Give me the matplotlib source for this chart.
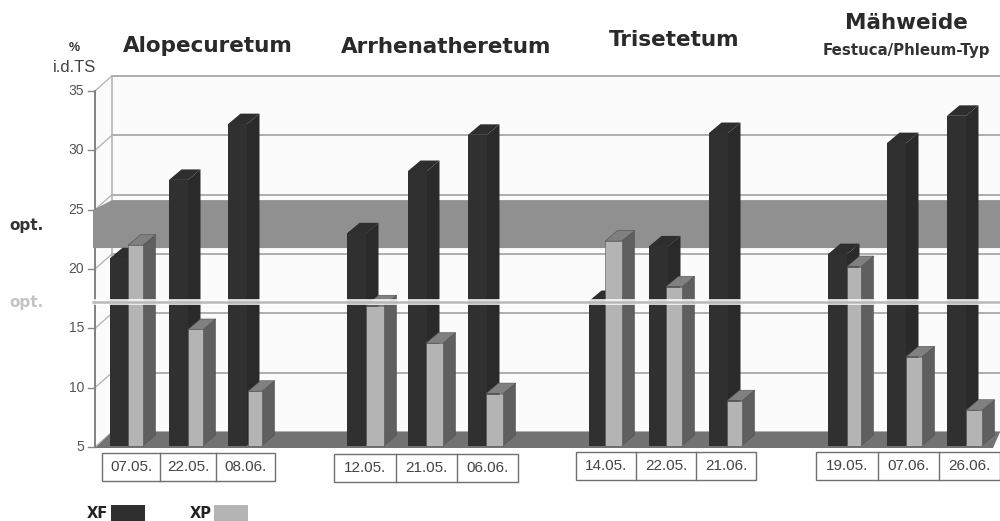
import matplotlib
matplotlib.use('Agg')
import matplotlib.pyplot as plt
from matplotlib.patches import Polygon, Rectangle

plt.rcParams['font.family'] = ['Liberation Sans', 'DejaVu Sans']
WIDE = ['DejaVu Sans']  # the spaced-out bold captions of the original

# values (% i.d.TS)
groups = ['Alopecuretum', 'Arrhenatheretum', 'Trisetetum', 'Mähweide']
dates = [['07.05.', '22.05.', '08.06.'],
         ['12.05.', '21.05.', '06.06.'],
         ['14.05.', '22.05.', '21.06.'],
         ['19.05.', '07.06.', '26.06.']]
xf = [[20.9, 27.5, 32.2],
      [23.0, 28.25, 31.3],
      [17.3, 21.9, 31.45],
      [21.25, 30.6, 32.9]]
xp = [[22.0, 14.9, 9.7],
      [16.9, 13.75, 9.5],
      [22.35, 18.5, 8.9],
      [20.2, 12.6, 8.1]]
yticks = [5, 10, 15, 20, 25, 30, 35]
opt_xf = (21.76, 25.8)
opt_xp = 17.2

# layout, all x in pixels
xf_left = [[110, 169, 228], [347, 408, 468], [589, 649, 709], [828, 887, 947]]
xp_left = [[128, 188, 248], [366, 426, 486], [605, 666, 727], [847, 906, 966]]
xp_width = [[15, 15, 14], [18, 17, 17], [17, 16, 15], [14, 16, 16]]
box_edges = [[102, 160, 216, 275], [334, 396, 457, 518], [576, 636, 696, 756], [816, 878, 939, 1000]]
box_top = [453, 454, 452, 452]
title_x = [208, 446, 674, 906]
title_y = [46, 47, 40, 23]

PX = 11.87  # pixels per % unit
Y0 = 447    # pixel row of the value 5


def val(py):
    return 5 + (Y0 - py) / PX


fig = plt.figure(figsize=(10, 5.21), dpi=100)
ax = fig.add_axes([0, 0, 1, 1])
ax.set_xlim(0, 1000)
ax.set_ylim(val(521), val(0))
ax.axis('off')


def poly(pts, color, z, ec='none', lw=0):
    ax.add_patch(Polygon(pts, closed=True, fc=color, ec=ec, lw=lw, zorder=z))


def bar3d(x, w, top, front, side, cap, z, ec='none'):
    base = val(445.5)
    dx = 12.5
    dy = 10.5 / PX
    poly([(x + w, base), (x + w + dx, base + dy), (x + w + dx, top + dy), (x + w, top)], side, z, ec, 0.4)
    poly([(x, top), (x + dx, top + dy), (x + w + dx, top + dy), (x + w, top)], cap, z, ec, 0.4)
    poly([(x, base), (x + w, base), (x + w, top), (x, top)], front, z + 0.1, ec, 0.4)


# back wall, side wall and floor
wall_dy = 15 / PX
poly([(95, 5), (112, 5 + wall_dy), (1000, 5 + wall_dy), (1000, 35 + wall_dy), (112, 35 + wall_dy), (95, 35)], '#fbfbfb', 1)
for t in yticks:
    ax.plot([112, 1000], [t + wall_dy, t + wall_dy], color='#a0a0a0', lw=1.2, zorder=2)
    ax.plot([95, 112], [t, t + wall_dy], color='#b0b0b0', lw=0.9, zorder=2)
    ax.plot([88, 95], [t, t], color='#888888', lw=1, zorder=2)
    ax.text(84, t, str(t), ha='right', va='center', fontsize=10, color='#555555', zorder=6)
ax.plot([112, 112], [5 + wall_dy, 35 + wall_dy], color='#b0b0b0', lw=1.1, zorder=2)
ax.plot([95, 95], [5, 35], color='#808080', lw=1.4, zorder=2)
poly([(95, val(448)), (112, 5 + wall_dy), (1000, 5 + wall_dy), (993, val(448))], '#727272', 2)

# XF optimum band
poly([(93, opt_xf[0]), (93, val(210)), (112, opt_xf[1]), (1000, opt_xf[1]), (1000, opt_xf[0])], '#909090', 3)

for g in range(len(groups)):
    for i in range(3):
        bar3d(xf_left[g][i], 19, xf[g][i], '#303030', '#2a2a2a', '#2e2e2e', 4 + i * 0.01)
        bar3d(xp_left[g][i], xp_width[g][i], xp[g][i], '#b4b4b4', '#5f5f5f', '#808080', 4.5 + i * 0.01, ec='#505050')

# XP optimum line runs in front of the bars
ax.plot([93, 1000], [opt_xp, opt_xp], color='white', lw=4.2, zorder=5, alpha=0.85)
ax.plot([93, 1000], [opt_xp, opt_xp], color='#b8b8b8', lw=1.8, zorder=5.1)

# date boxes
for g in range(len(groups)):
    edges = box_edges[g]
    top = val(box_top[g])
    bottom = val(box_top[g] + 28)
    ax.add_patch(Rectangle((edges[0], bottom), edges[-1] - edges[0], top - bottom, fc='white', ec='#707070', lw=1, zorder=3))
    for e in edges[1:-1]:
        ax.plot([e, e], [bottom, top], color='#707070', lw=1, zorder=3)
    for i in range(3):
        ax.text((edges[i] + edges[i + 1]) / 2, (top + bottom) / 2, dates[g][i], ha='center', va='center',
                fontsize=11, color='#444444', zorder=4)

# titles
for g in range(len(groups)):
    ax.text(title_x[g], val(title_y[g]), groups[g], ha='center', va='center', fontsize=15.5,
            fontweight='bold', color='#2a2a2a', family=WIDE)
ax.text(906, val(50), 'Festuca/Phleum-Typ', ha='center', va='center', fontsize=10.8, fontweight='bold',
        color='#333333', family=WIDE)

# y axis caption and opt labels
ax.text(74, val(48), '%', ha='center', va='center', fontsize=9, fontweight='bold', color='#333333')
ax.text(75, val(68), 'i.d.TS', ha='center', va='center', fontsize=12, color='#444444')
ax.text(9, val(225), 'opt.', ha='left', va='center', fontsize=11, fontweight='bold', color='#333333', family=WIDE)
ax.text(9, val(303), 'opt.', ha='left', va='center', fontsize=11, fontweight='bold', color='#c4c4c4', family=WIDE)

# legend
ax.text(108, val(514), 'XF', ha='right', va='center', fontsize=10.5, fontweight='bold', color='#222222', family=WIDE)
ax.add_patch(Rectangle((111, val(521)), 34, 16 / PX, fc='#2f2f2f', ec='none', zorder=3))
ax.text(212, val(514), 'XP', ha='right', va='center', fontsize=10.5, fontweight='bold', color='#222222', family=WIDE)
ax.add_patch(Rectangle((214, val(521)), 34, 16 / PX, fc='#b4b4b4', ec='none', zorder=3))

fig.savefig('out.png', dpi=100)
